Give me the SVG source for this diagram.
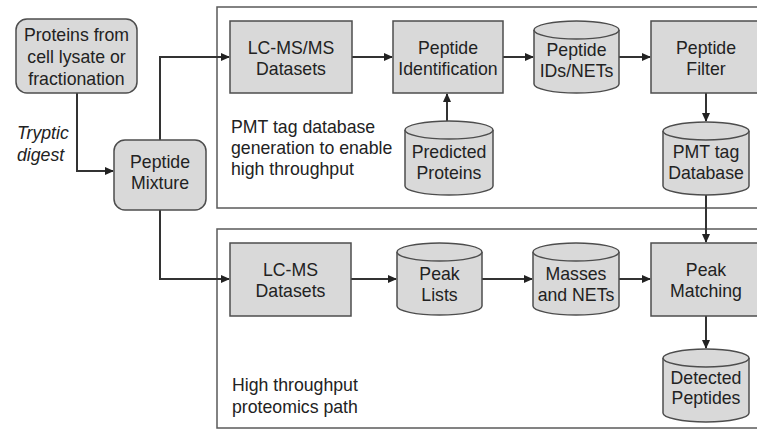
<svg xmlns="http://www.w3.org/2000/svg" width="757" height="432" viewBox="0 0 757 432">
<style>
.box{fill:#d9d9d9;stroke:#4d4d4d;stroke-width:1.5}
.cyl{fill:#d9d9d9;stroke:#4d4d4d;stroke-width:1.5}
.panel{fill:#fff;stroke:#5a5a5a;stroke-width:1.5}
.t{font-family:"Liberation Sans",Arial,sans-serif;font-size:17.7px;fill:#222;text-anchor:middle}
.tl{font-family:"Liberation Sans",Arial,sans-serif;font-size:17.7px;fill:#222}
.it{font-style:italic}
.c{fill:none;stroke:#333;stroke-width:2;marker-end:url(#ah)}
</style>
<defs>
<marker id="ah" markerWidth="9" markerHeight="8" refX="8" refY="4" orient="auto" markerUnits="userSpaceOnUse">
<path d="M0,0 L9,4 L0,8 z" fill="#222"/>
</marker>
</defs>
<rect width="757" height="432" fill="#fff"/>
<g id="panel-top">
<rect class="panel" x="217" y="7" width="560" height="201"/>
<text class="tl" x="231" y="133">PMT tag database</text>
<text class="tl" x="231" y="154">generation to enable</text>
<text class="tl" x="231" y="175">high throughput</text>
</g>
<g id="panel-bottom">
<rect class="panel" x="217" y="229" width="560" height="199"/>
<text class="tl" x="232" y="391">High throughput</text>
<text class="tl" x="232" y="413">proteomics path</text>
</g>
<g id="connectors">
<path class="c" d="M77,93 V171 H113"/>
<text class="tl it" x="17" y="139">Tryptic</text>
<text class="tl it" x="17" y="161">digest</text>
<path class="c" d="M160,140 V57 H229"/>
<path class="c" d="M160,210 V279 H229"/>
<path class="c" d="M352,57 H392"/>
<path class="c" d="M503,57 H533"/>
<path class="c" d="M619,57 H650"/>
<path class="c" d="M447,121 V94"/>
<path class="c" d="M706,93 V121"/>
<path class="c" d="M706,195 V242"/>
<path class="c" d="M351,279 H396"/>
<path class="c" d="M482,279 H532"/>
<path class="c" d="M619,279 H650"/>
<path class="c" d="M706,316 V348"/>
</g>
<g id="proteins">
<rect class="box" x="16" y="19" width="121" height="74" rx="11"/>
<text class="t" x="76.5" y="41">Proteins from</text>
<text class="t" x="76.5" y="63">cell lysate or</text>
<text class="t" x="76.5" y="85">fractionation</text>
</g>
<g id="mixture">
<rect class="box" x="114" y="140" width="92" height="70" rx="11"/>
<text class="t" x="160" y="168">Peptide</text>
<text class="t" x="160" y="189">Mixture</text>
</g>
<g id="lcmsms">
<rect class="box" x="230" y="21" width="122" height="72"/>
<text class="t" x="291" y="54">LC-MS/MS</text>
<text class="t" x="291" y="75">Datasets</text>
</g>
<g id="pepid">
<rect class="box" x="393" y="21" width="110" height="72"/>
<text class="t" x="448" y="54">Peptide</text>
<text class="t" x="448" y="75">Identification</text>
</g>
<g id="pepids">
<path class="cyl" d="M534,30 A42.5,9 0 0 1 619,30 V84 A42.5,9 0 0 1 534,84 Z"/>
<path class="cyl" d="M534,30 A42.5,9 0 0 0 619,30" fill="none"/>
<text class="t" x="576.5" y="56">Peptide</text>
<text class="t" x="576.5" y="77">IDs/NETs</text>
</g>
<g id="filter">
<rect class="box" x="651" y="21" width="120" height="72"/>
<text class="t" x="706" y="54">Peptide</text>
<text class="t" x="706" y="75">Filter</text>
</g>
<g id="predicted">
<path class="cyl" d="M405,130 A44,9 0 0 1 493,130 V186 A44,9 0 0 1 405,186 Z"/>
<path class="cyl" d="M405,130 A44,9 0 0 0 493,130" fill="none"/>
<text class="t" x="449" y="158">Predicted</text>
<text class="t" x="449" y="179">Proteins</text>
</g>
<g id="pmtdb">
<path class="cyl" d="M663,131 A43,9 0 0 1 749,131 V186 A43,9 0 0 1 663,186 Z"/>
<path class="cyl" d="M663,131 A43,9 0 0 0 749,131" fill="none"/>
<text class="t" x="706" y="158">PMT tag</text>
<text class="t" x="706" y="179">Database</text>
</g>
<g id="lcms">
<rect class="box" x="230" y="243" width="121" height="73"/>
<text class="t" x="290.5" y="276">LC-MS</text>
<text class="t" x="290.5" y="297">Datasets</text>
</g>
<g id="peaklists">
<path class="cyl" d="M397,252 A42.5,9 0 0 1 482,252 V306 A42.5,9 0 0 1 397,306 Z"/>
<path class="cyl" d="M397,252 A42.5,9 0 0 0 482,252" fill="none"/>
<text class="t" x="439.5" y="280">Peak</text>
<text class="t" x="439.5" y="301">Lists</text>
</g>
<g id="masses">
<path class="cyl" d="M533,252 A43,9 0 0 1 619,252 V306 A43,9 0 0 1 533,306 Z"/>
<path class="cyl" d="M533,252 A43,9 0 0 0 619,252" fill="none"/>
<text class="t" x="576" y="280">Masses</text>
<text class="t" x="576" y="301">and NETs</text>
</g>
<g id="peakmatch">
<rect class="box" x="651" y="243" width="120" height="73"/>
<text class="t" x="706" y="276">Peak</text>
<text class="t" x="706" y="297">Matching</text>
</g>
<g id="detected">
<path class="cyl" d="M663,358 A43,9 0 0 1 749,358 V413 A43,9 0 0 1 663,413 Z"/>
<path class="cyl" d="M663,358 A43,9 0 0 0 749,358" fill="none"/>
<text class="t" x="706" y="384">Detected</text>
<text class="t" x="706" y="404">Peptides</text>
</g>
</svg>
